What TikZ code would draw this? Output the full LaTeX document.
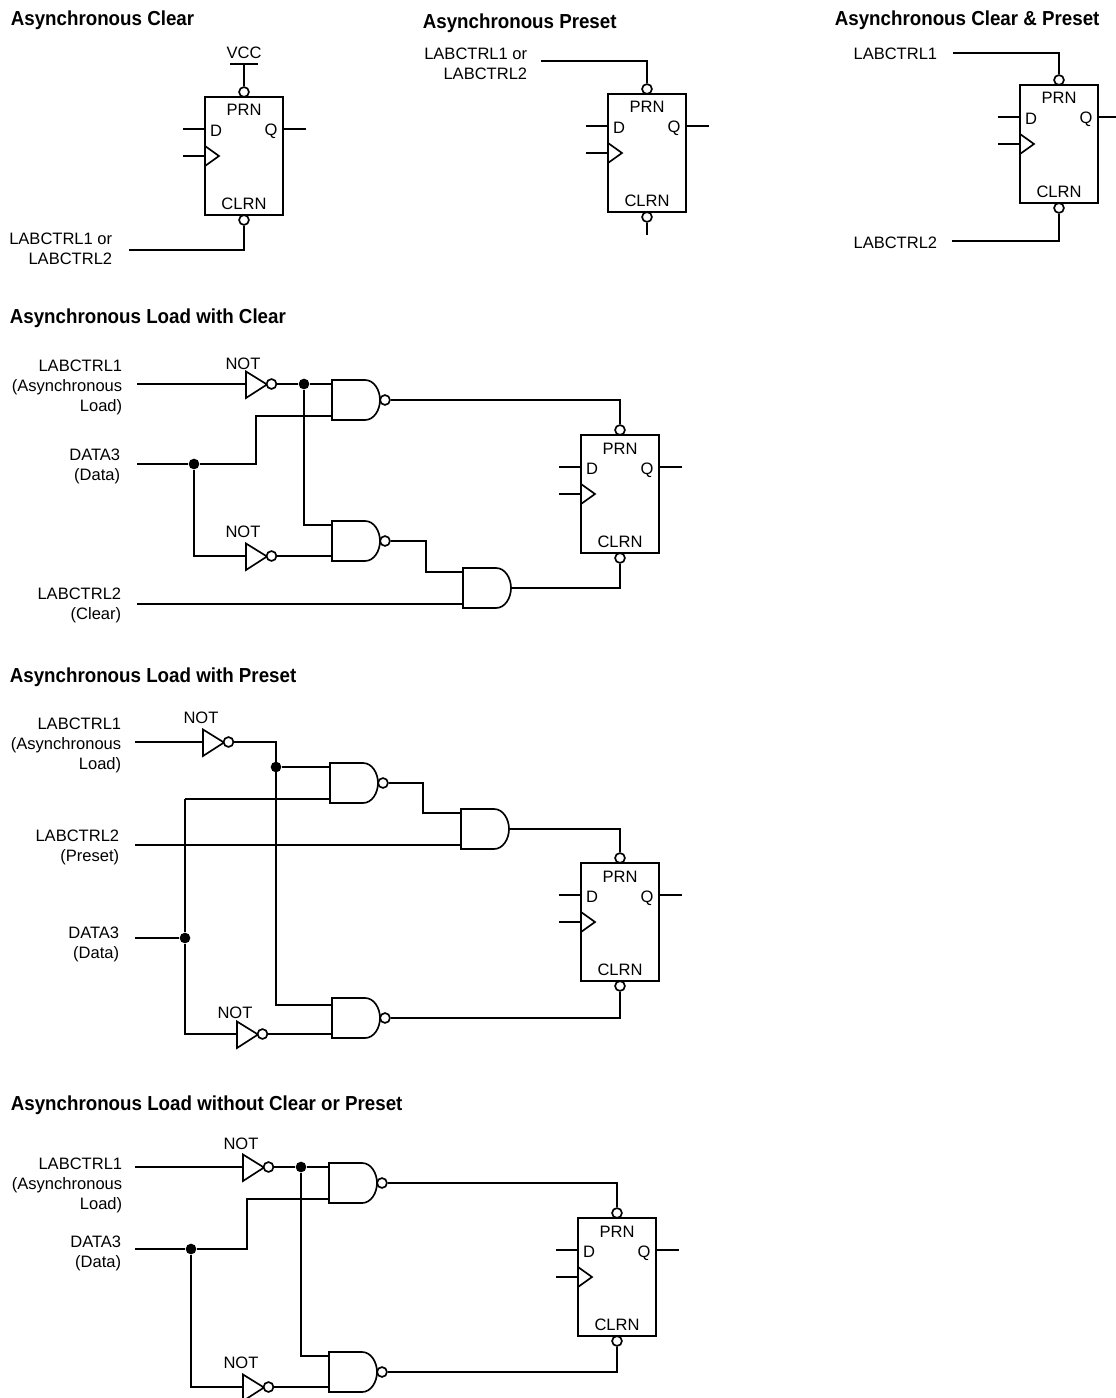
\documentclass[tikz,border=0pt]{standalone}
\usepackage{fontspec}
\setmainfont{Liberation Sans}
\newfontfamily\titlefont[FakeStretch=0.925]{Liberation Sans Bold}
\begin{document}
\begin{tikzpicture}[x=0.75pt,y=-0.75pt,line width=1.25pt,line join=miter,
  lab/.style={inner sep=0pt,anchor=north east,align=right,font=\fontsize{12.4}{15}\selectfont},
  pin/.style={inner sep=0pt,anchor=center,text height=9pt,text depth=0pt,font=\fontsize{12.4}{15}\selectfont},
  ttl/.style={inner sep=0pt,anchor=north west,font=\titlefont\fontsize{15.2}{18}\selectfont},
  bub/.style={circle,draw,fill=white,inner sep=0pt,minimum size=7.4pt},
  dot/.style={circle,fill=black,inner sep=0pt,minimum size=8pt},
  ffbody/.style={draw,inner sep=0pt,minimum width=58.5pt,minimum height=88.5pt},
  gbody/.style={inner sep=0pt,minimum width=36pt,minimum height=30pt},
  ffp/.pic={
    \node[ffbody] (-box) at (39,59) {};
    \node[bub] (-pr) at (39,-5) {};
    \node[bub] (-cl) at (39,123) {};
    \node[pin] (-prn) at (39,13) {PRN};
    \node[pin] (-clrn) at (39,106.5) {CLRN};
    \node[pin] (-dl) at (11,33.5) {D};
    \node[pin] (-ql) at (66,33) {Q};
    \coordinate (-dend) at (-22,32);
    \coordinate (-cend) at (-22,59);
    \coordinate (-qend) at (101,32);
    \draw (-dend) -- (-dend -| -box.west);
    \draw (-cend) -- (-cend -| -box.west);
    \draw (-qend) -- (-qend -| -box.east);
    \draw (0,49) -- (14,59) -- (0,69);
  },
  andp/.pic={
    \node[gbody] (-body) at (24,20) {};
    \draw (0,0) -- (33,0) .. controls (42,0) and (48,10) .. (48,20) .. controls (48,30) and (42,40) .. (33,40) -- (0,40) -- cycle;
    \coordinate (-a) at (0,4);
    \coordinate (-b) at (0,36);
    \coordinate (-o) at (48,20);
  },
  nandp/.pic={
    \node[gbody] (-body) at (24,20) {};
    \draw (0,0) -- (33,0) .. controls (42,0) and (48,10) .. (48,20) .. controls (48,30) and (42,40) .. (33,40) -- (0,40) -- cycle;
    \node[bub] (-o) at (53,20) {};
    \coordinate (-a) at (0,4);
    \coordinate (-b) at (0,36);
  },
  notp/.pic={
    \draw (0,-12.5) -- (21,0.5) -- (0,14) -- cycle;
    \node[bub] (-o) at (25.5,0) {};
    \coordinate (-i) at (0,0);
  }
]
\useasboundingbox (0,0) rectangle (1116,1398);
% ---------- Asynchronous Clear
\node[ttl] (t1) at (10,10) {Asynchronous Clear};
\pic (a) at (205,97) {ffp};
\node[pin] (avcc) at (244,53) {VCC};
\coordinate (avl) at (230,64);
\coordinate (avr) at (258,64);
\coordinate (avm) at (244,64);
\draw (avl) -- (avr);
\draw (avm) -- (a-pr.north);
\node[lab] (al) at (113,232) {LABCTRL1 or\\LABCTRL2};
\coordinate (ae) at (129,250);
\draw (ae) -| (a-cl.south);
% ---------- Asynchronous Preset
\node[ttl] (t2) at (422,13) {Asynchronous Preset};
\pic (b) at (608,94) {ffp};
\node[lab] (bl) at (528,47) {LABCTRL1 or\\LABCTRL2};
\coordinate (be) at (541,61);
\coordinate (bs) at (647,235);
\draw (be) -| (b-pr.north);
\draw (b-cl.south) -- (bs);
% ---------- Asynchronous Clear & Preset
\node[ttl] (t3) at (834,10) {Asynchronous Clear \& Preset};
\pic (c) at (1020,85) {ffp};
\node[lab] (cl1) at (938,47) {LABCTRL1};
\node[lab] (cl2) at (938,236) {LABCTRL2};
\coordinate (ce1) at (953,53);
\coordinate (ce2) at (952,241);
\draw (ce1) -| (c-pr.north);
\draw (ce2) -| (c-cl.south);
% ---------- Load with Clear
\node[ttl] (t4) at (9,308) {Asynchronous Load with Clear};
\pic (d) at (581,435) {ffp};
\node[lab] (dl1) at (123,359) {LABCTRL1\\(Asynchronous\\Load)};
\node[lab] (dl2) at (121,448) {DATA3\\(Data)};
\node[lab] (dl3) at (122,587) {LABCTRL2\\(Clear)};
\pic (dn1) at (246,384) {notp};
\pic (dn2) at (246,556) {notp};
\node[pin] (dnt1) at (243,363) {NOT};
\node[pin] (dnt2) at (243,531) {NOT};
\pic (dg1) at (332,380) {nandp};
\pic (dg2) at (332,521) {nandp};
\pic (dg3) at (463,568) {andp};
\coordinate (de1) at (137,384);
\coordinate (de2) at (137,464);
\coordinate (de3) at (137,604);
\node[dot] (dd1) at (304,384) {};
\node[dot] (dd2) at (194,464) {};
\coordinate (dk1) at (256,464);
\coordinate (dk2) at (426,541);
\draw (de1) -- (dn1-i);
\draw (dn1-o.east) -- (dd1) -- (dg1-a);
\draw (dd1) |- (dg2-a);
\draw (de2) -- (dd2) -- (dk1) |- (dg1-b);
\draw (dd2) |- (dn2-i);
\draw (dn2-o.east) -- (dn2-o.east -| dg2-b);
\draw (dg1-o.east) -| (d-pr.north);
\draw (dg2-o.east) -- (dk2) |- (dg3-a);
\draw (de3) -- (dg3-b);
\draw (dg3-o) -| (d-cl.south);
% ---------- Load with Preset
\node[ttl] (t5) at (9,667) {Asynchronous Load with Preset};
\pic (e) at (581,863) {ffp};
\node[lab] (el1) at (122,717) {LABCTRL1\\(Asynchronous\\Load)};
\node[lab] (el2) at (120,829) {LABCTRL2\\(Preset)};
\node[lab] (el3) at (120,926) {DATA3\\(Data)};
\pic (en1) at (203,742) {notp};
\pic (en2) at (237,1034) {notp};
\node[pin] (ent1) at (201,717) {NOT};
\node[pin] (ent2) at (235,1012) {NOT};
\pic (eg1) at (330,763) {nandp};
\pic (eg2) at (461,809) {andp};
\pic (eg3) at (332,998) {nandp};
\coordinate (ee1) at (135,742);
\coordinate (ee2) at (135,845);
\coordinate (ee3) at (135,938);
\node[dot] (ed1) at (276,767) {};
\node[dot] (ed2) at (185,938) {};
\coordinate (ek) at (423,783);
\coordinate (et) at (185,799);
\coordinate (eb) at (276,742);
\coordinate (ex) at (332,1005);
\draw (ee1) -- (en1-i);
\draw (en1-o.east) -- (eb) |- (ex);
\draw (ed1) -- (eg1-a);
\draw (ee2) -- (ee2 -| eg2-b);
\draw (ee3) -- (ed2);
\draw (et) -- (eg1-b);
\draw (et) -- (ed2) |- (en2-i);
\draw (en2-o.east) -- (en2-o.east -| eg3-b);
\draw (eg1-o.east) -- (ek) |- (eg2-a);
\draw (eg2-o) -| (e-pr.north);
\draw (eg3-o.east) -| (e-cl.south);
% ---------- Load without Clear or Preset
\node[ttl] (t6) at (10,1095) {Asynchronous Load without Clear or Preset};
\pic (f) at (578,1218) {ffp};
\node[lab] (fl1) at (123,1157) {LABCTRL1\\(Asynchronous\\Load)};
\node[lab] (fl2) at (122,1235) {DATA3\\(Data)};
\pic (fn1) at (243,1167) {notp};
\pic (fn2) at (243,1387) {notp};
\node[pin] (fnt1) at (241,1143) {NOT};
\node[pin] (fnt2) at (241,1362) {NOT};
\pic (fg1) at (329,1163) {nandp};
\pic (fg2) at (329,1352) {nandp};
\coordinate (fe1) at (135,1167);
\coordinate (fe2) at (135,1249);
\node[dot] (fd1) at (301,1167) {};
\node[dot] (fd2) at (191,1249) {};
\coordinate (fk) at (247,1249);
\draw (fe1) -- (fn1-i);
\draw (fn1-o.east) -- (fd1) -- (fg1-a);
\draw (fd1) |- (fg2-a);
\draw (fe2) -- (fd2) -- (fk) |- (fg1-b);
\draw (fd2) |- (fn2-i);
\draw (fn2-o.east) -- (fn2-o.east -| fg2-b);
\draw (fg1-o.east) -| (f-pr.north);
\draw (fg2-o.east) -| (f-cl.south);
\end{tikzpicture}
\end{document}
